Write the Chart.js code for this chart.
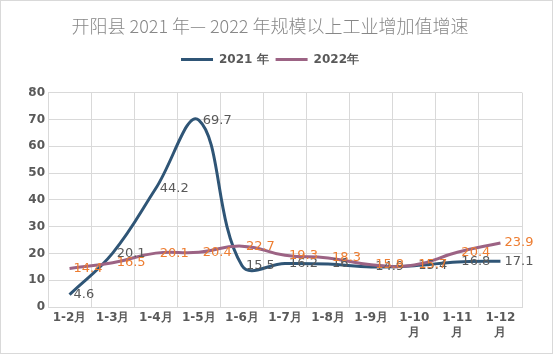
<!DOCTYPE html>
<html>
<head>
<meta charset="utf-8">
<script src="https://cdn.jsdelivr.net/npm/chart.js@4"></script>
<style>
  body { margin: 0; background: #fff; }
</style>
</head>
<body>
<canvas id="myChart" width="553" height="354"></canvas>
<script>
const months = ['1-2月', '1-3月', '1-4月', '1-5月', '1-6月', '1-7月', '1-8月', '1-9月', ['1-10', '月'], ['1-11', '月'], ['1-12', '月']];
const values2021 = [4.6, 20.1, 44.2, 69.7, 15.5, 16.2, 16, 14.9, 15.4, 16.8, 17.1];
const values2022 = [14.4, 16.5, 20.1, 20.4, 22.7, 19.3, 18.3, 15.8, 15.7, 20.4, 23.9];
const yTicks = [0, 10, 20, 30, 40, 50, 60, 70, 80];

const tickFont = { family: 'DejaVu Sans', size: 12, weight: 'bold' };

// white background + thin frame
const frame = {
    id: 'frame',
    beforeDraw(chart) {
        const c = chart.ctx;
        c.save();
        c.fillStyle = '#fff';
        c.fillRect(0, 0, chart.width, chart.height);
        c.strokeStyle = '#d9d9d9';
        c.lineWidth = 1;
        c.strokeRect(0.5, 0.5, chart.width - 1, chart.height - 1);
        c.restore();
    }
};

// extra room under the legend
const legendGap = {
    id: 'legendGap',
    beforeInit(chart) {
        const fit = chart.legend.fit;
        chart.legend.fit = function () {
            fit.bind(chart.legend)();
            this.height += 17;
        };
    }
};

// value labels to the right of each point
const valueLabels = {
    id: 'valueLabels',
    afterDatasetsDraw(chart) {
        const c = chart.ctx;
        c.save();
        c.font = '13px "DejaVu Sans"';
        c.textAlign = 'left';
        c.textBaseline = 'middle';
        [0, 1].forEach(i => {
            const ds = chart.data.datasets[i];
            c.fillStyle = ds.labelColor;
            chart.getDatasetMeta(i).data.forEach((pt, j) => {
                c.fillText(String(ds.data[j]), pt.x + 4, pt.y);
            });
        });
        c.restore();
    }
};

const ctx = document.getElementById('myChart');
const myChart = new Chart(ctx, {
    type: 'line',
    data: {
        labels: months,
        datasets: [
            {
                label: '2021 年',
                data: values2021,
                borderColor: '#2f5576',
                backgroundColor: '#2f5576',
                borderWidth: 3,
                pointRadius: 0,
                tension: 0.4,
                order: 1,
                labelColor: '#595959'
            }, {
                label: '2022年',
                data: values2022,
                borderColor: '#9c6384',
                backgroundColor: '#9c6384',
                borderWidth: 3,
                pointRadius: 0,
                tension: 0.5,
                order: 0,
                labelColor: '#ed7d31'
            }
        ]
    },
    options: {
        responsive: false,
        animation: false,
        layout: { padding: { left: 18, right: 31, top: 0, bottom: 0 } },
        plugins: {
            title: {
                display: true,
                text: '开阳县 2021 年— 2022 年规模以上工业增加值增速',
                color: '#878787',
                font: { family: 'Noto Sans CJK SC', size: 18, weight: 300 },
                padding: { top: 15, bottom: 10 }
            },
            legend: {
                labels: {
                    usePointStyle: true,
                    pointStyle: 'line',
                    pointStyleWidth: 32,
                    padding: 7,
                    color: '#595959',
                    font: tickFont,
                    sort: (a, b) => a.datasetIndex - b.datasetIndex
                }
            },
            tooltip: { enabled: false }
        },
        scales: {
            x: {
                offset: true,
                grid: { offset: true, color: '#d9d9d9', drawTicks: false },
                border: { color: '#d9d9d9' },
                ticks: { color: '#595959', font: tickFont, padding: 4, maxRotation: 0, autoSkip: false },
                afterFit(scale) { scale.height = 47; }
            },
            y: {
                min: 0,
                max: 80,
                afterBuildTicks(scale) { scale.ticks = yTicks.map(v => ({ value: v })); },
                grid: { color: '#d9d9d9', drawTicks: false },
                border: { color: '#d9d9d9' },
                ticks: { color: '#595959', font: tickFont, padding: 3 },
                afterFit(scale) { scale.width = 30; }
            }
        }
    },
    plugins: [frame, legendGap, valueLabels]
});
</script>
</body>
</html>
